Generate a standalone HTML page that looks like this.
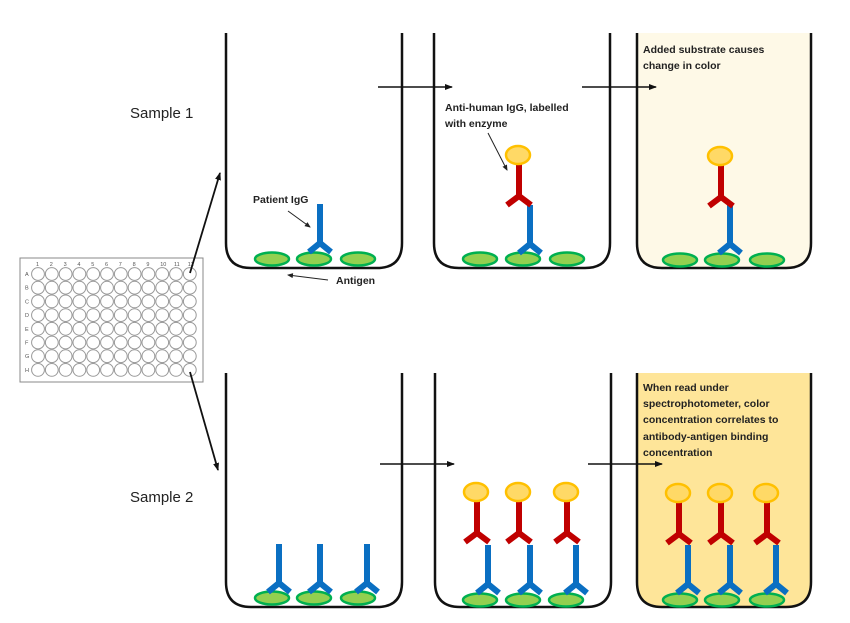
<!DOCTYPE html>
<html><head><meta charset="utf-8"><style>
html,body{margin:0;padding:0;background:#fff;}
svg{display:block;font-family:"Liberation Sans",sans-serif;}
.t{font-size:10.5px;fill:#222;font-weight:bold;}
</style></head><body>
<svg width="850" height="623" viewBox="0 0 850 623">
<defs>
<marker id="ah" markerWidth="8" markerHeight="8" refX="7" refY="4" orient="auto" markerUnits="userSpaceOnUse"><path d="M0,1 L8,4 L0,7 Z" fill="#111"/></marker>
<marker id="as" markerWidth="6" markerHeight="6" refX="5" refY="3" orient="auto" markerUnits="userSpaceOnUse"><path d="M0,0.5 L6,3 L0,5.5 Z" fill="#222"/></marker>
<g id="blue"><line x1="0" y1="0" x2="0" y2="39" stroke="#0a6fc2" stroke-width="6"/><polyline points="-11,48 0,39 11,48" fill="none" stroke="#0a6fc2" stroke-width="6"/></g>
<g id="red"><line x1="0" y1="0" x2="0" y2="40" stroke="#c00000" stroke-width="6"/><polyline points="-12,49 0,40 12,49" fill="none" stroke="#c00000" stroke-width="6"/><ellipse cx="-1" cy="-1" rx="12" ry="9" fill="#ffd966" stroke="#ffc000" stroke-width="2.5"/></g>
<ellipse id="ag" cx="0" cy="0" rx="17" ry="6.5" fill="#92d050" stroke="#00b050" stroke-width="2.5"/>
</defs>

<!-- wells top -->
<path d="M226,33 V243 Q226,268 251,268 H377 Q402,268 402,243 V33" fill="none" stroke="#111" stroke-width="2.5"/>
<path d="M434,33 V243 Q434,268 459,268 H585 Q610,268 610,243 V33" fill="none" stroke="#111" stroke-width="2.5"/>
<path d="M637,33 V243 Q637,268 662,268 H786 Q811,268 811,243 V33 Z" fill="#fef9e7" stroke="none"/>
<path d="M637,33 V243 Q637,268 662,268 H786 Q811,268 811,243 V33" fill="none" stroke="#111" stroke-width="2.5"/>
<!-- wells bottom -->
<path d="M226,373 V582 Q226,607 251,607 H377 Q402,607 402,582 V373" fill="none" stroke="#111" stroke-width="2.5"/>
<path d="M435,373 V582 Q435,607 460,607 H586 Q611,607 611,582 V373" fill="none" stroke="#111" stroke-width="2.5"/>
<path d="M637,373 V582 Q637,607 662,607 H786 Q811,607 811,582 V373 Z" fill="#fee599" stroke="none"/>
<path d="M637,373 V582 Q637,607 662,607 H786 Q811,607 811,582 V373" fill="none" stroke="#111" stroke-width="2.5"/>

<!-- arrows between wells -->
<line x1="378" y1="87" x2="452" y2="87" stroke="#111" stroke-width="1.5" marker-end="url(#ah)"/>
<line x1="582" y1="87" x2="656" y2="87" stroke="#111" stroke-width="1.5" marker-end="url(#ah)"/>
<line x1="380" y1="464" x2="454" y2="464" stroke="#111" stroke-width="1.5" marker-end="url(#ah)"/>
<line x1="588" y1="464" x2="662" y2="464" stroke="#111" stroke-width="1.5" marker-end="url(#ah)"/>

<!-- Top row contents -->
<use href="#ag" x="272" y="259"/><use href="#ag" x="314" y="259"/><use href="#ag" x="358" y="259"/>
<use href="#blue" x="320" y="204"/>
<use href="#ag" x="480" y="259"/><use href="#ag" x="523" y="259"/><use href="#ag" x="567" y="259"/>
<use href="#blue" x="530" y="205"/><use href="#red" x="519" y="156"/>
<use href="#ag" x="680" y="260"/><use href="#ag" x="722" y="260"/><use href="#ag" x="767" y="260"/>
<use href="#blue" x="730" y="205"/><use href="#red" x="721" y="157"/>

<!-- Bottom row contents -->
<use href="#ag" x="272" y="598"/><use href="#ag" x="314" y="598"/><use href="#ag" x="358" y="598"/>
<use href="#blue" x="279" y="544"/><use href="#blue" x="320" y="544"/><use href="#blue" x="367" y="544"/>
<use href="#ag" x="480" y="600"/><use href="#ag" x="523" y="600"/><use href="#ag" x="566" y="600"/>
<use href="#blue" x="488" y="545"/><use href="#blue" x="530" y="545"/><use href="#blue" x="576" y="545"/>
<use href="#red" x="477" y="493"/><use href="#red" x="519" y="493"/><use href="#red" x="567" y="493"/>
<use href="#ag" x="680" y="600"/><use href="#ag" x="722" y="600"/><use href="#ag" x="767" y="600"/>
<use href="#blue" x="688" y="545"/><use href="#blue" x="730" y="545"/><use href="#blue" x="776" y="545"/>
<use href="#red" x="679" y="494"/><use href="#red" x="721" y="494"/><use href="#red" x="767" y="494"/>

<!-- labels -->
<text x="130" y="118" font-size="15" fill="#222">Sample 1</text>
<text x="130" y="502" font-size="15" fill="#222">Sample 2</text>
<text class="t" x="253" y="203">Patient IgG</text>
<line x1="288" y1="211" x2="310" y2="227" stroke="#222" stroke-width="1" marker-end="url(#as)"/>
<text class="t" x="336" y="284">Antigen</text>
<line x1="328" y1="280" x2="288" y2="275" stroke="#222" stroke-width="1" marker-end="url(#as)"/>
<text class="t" x="445" y="111">Anti-human IgG, labelled</text>
<text class="t" x="445" y="127">with enzyme</text>
<line x1="488" y1="133" x2="507" y2="170" stroke="#222" stroke-width="1" marker-end="url(#as)"/>
<text class="t" x="643" y="53">Added substrate causes</text>
<text class="t" x="643" y="69">change in color</text>
<text class="t" x="643" y="391">When read under</text>
<text class="t" x="643" y="407">spectrophotometer, color</text>
<text class="t" x="643" y="423">concentration correlates to</text>
<text class="t" x="643" y="440">antibody-antigen binding</text>
<text class="t" x="643" y="456">concentration</text>

<!-- plate -->
<rect x="20" y="258" width="183" height="124" fill="#fff" stroke="#888" stroke-width="1"/>
<g fill="none" stroke="#999" stroke-width="1">
<script>/* none */</script>
</g>
<g id="plate" font-size="5.5" fill="#555"></g>
<g fill="#fff" stroke="#999" stroke-width="1">
<!-- circles generated statically -->
</g>
<g id="circ" fill="none" stroke="#999" stroke-width="1"></g>
<script>
(function(){var ns="http://www.w3.org/2000/svg",g=document.getElementById("circ"),p=document.getElementById("plate");
var rows="ABCDEFGH";
for(var r=0;r<8;r++){var t=document.createElementNS(ns,"text");t.setAttribute("x",25);t.setAttribute("y",276+r*13.7);t.textContent=rows[r];p.appendChild(t);
for(var c=0;c<12;c++){var e=document.createElementNS(ns,"circle");e.setAttribute("cx",38+c*13.8);e.setAttribute("cy",274+r*13.7);e.setAttribute("r",6.4);g.appendChild(e);}}
for(var c=0;c<12;c++){var t=document.createElementNS(ns,"text");t.setAttribute("x",36+c*13.8);t.setAttribute("y",266);t.textContent=(c+1);p.appendChild(t);}
})();
</script>
<line x1="190" y1="273" x2="220" y2="173" stroke="#111" stroke-width="1.8" marker-end="url(#ah)"/>
<line x1="190" y1="372" x2="218" y2="470" stroke="#111" stroke-width="1.8" marker-end="url(#ah)"/>
</svg>
</body></html>
